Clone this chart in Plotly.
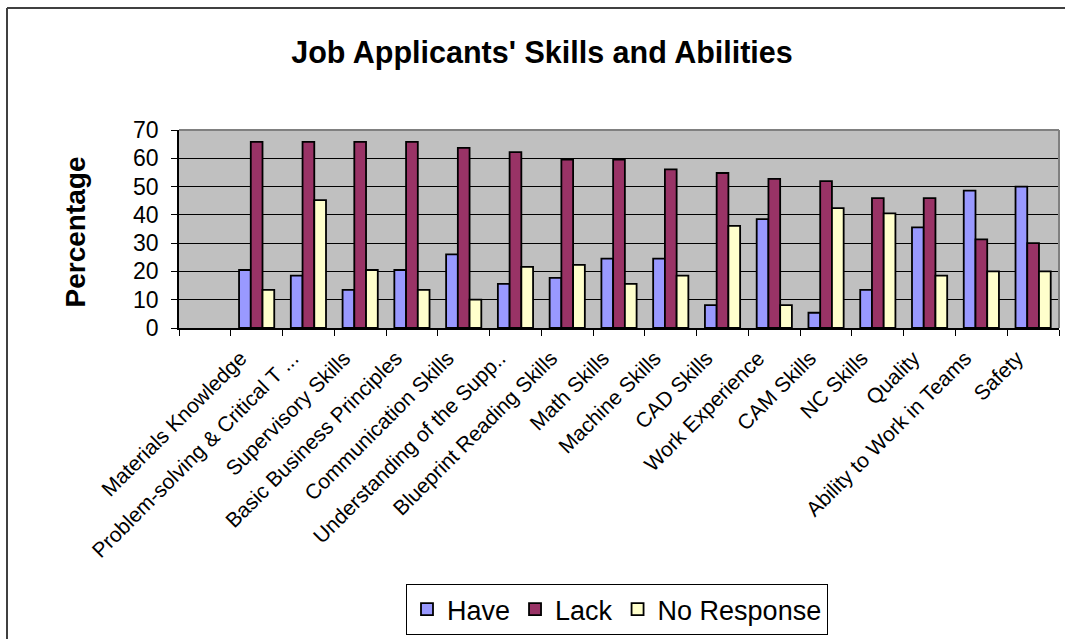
import plotly.graph_objects as go

# Survey results: share of job applicants who have / lack each skill.
# The chart starts with an unlabeled, empty slot before the first skill.
skills = [
    " ",
    "Materials Knowledge",
    "Problem-solving & Critical T ...",
    "Supervisory Skills",
    "Basic Business Principles",
    "Communication Skills",
    "Understanding of the Supp..",
    "Blueprint Reading Skills",
    "Math Skills",
    "Machine Skills",
    "CAD Skills",
    "Work Experience",
    "CAM Skills",
    "NC Skills",
    "Quality",
    "Ability to Work in Teams",
    "Safety",
]
have = [None, 20.5, 18.5, 13.5, 20.5, 26.0, 15.6, 17.7, 24.5, 24.5, 8.1, 38.5, 5.4, 13.5, 35.6, 48.6, 50.0]
lack = [None, 65.8, 65.8, 65.8, 65.8, 63.7, 62.2, 59.5, 59.5, 56.1, 54.8, 52.7, 51.9, 45.9, 45.9, 31.3, 30.0]
no_response = [None, 13.5, 45.2, 20.5, 13.5, 10.0, 21.6, 22.3, 15.6, 18.5, 36.1, 8.1, 42.4, 40.5, 18.5, 20.0, 20.0]

FONT = "Arial, Liberation Sans, sans-serif"

# plot-area geometry in pixels (used to convert decorations to paper coords)
L, R, T, B = 179, 1059, 130, 328
W, H = R - L, B - T


def px(x):
    return (x - L) / W


def py(y):
    return (B - y) / H


fig = go.Figure()
series = [
    ("Have", have, "#9999FF"),
    ("Lack", lack, "#993366"),
    ("No Response", no_response, "#FFFFCC"),
]
for name, vals, color in series:
    fig.add_trace(go.Bar(
        name=name,
        x=skills,
        y=vals,
        marker=dict(color=color, line=dict(color="black", width=1.8)),
    ))

fig.update_layout(
    width=1065,
    height=639,
    margin=dict(l=L, r=1065 - R, t=T, b=639 - B, autoexpand=False),
    paper_bgcolor="white",
    plot_bgcolor="#C0C0C0",
    barmode="group",
    bargap=0.32,
    bargroupgap=0,
    font=dict(family=FONT, color="black"),
    title=dict(
        text="<b>Job Applicants' Skills and Abilities</b>",
        font=dict(family=FONT, size=30.5, color="black"),
        x=542 / 1065, xanchor="center",
        y=1 - 52 / 639, yanchor="middle",
        xref="container", yref="container",
    ),
    showlegend=True,
    legend=dict(
        orientation="h",
        x=px(617), xanchor="center",
        y=py(584), yanchor="top",
        font=dict(family=FONT, size=27, color="black"),
        bordercolor="black",
        borderwidth=1,
        bgcolor="white",
        traceorder="normal",
    ),
)

fig.update_xaxes(
    type="category",
    tickson="boundaries",
    ticks="outside",
    ticklen=6,
    tickcolor="black",
    tickangle=-45,
    tickfont=dict(family=FONT, size=21, color="black"),
    ticklabelstandoff=8,
    ticklabelshift=-16,
    showline=True,
    linecolor="black",
    linewidth=1.5,
    showgrid=False,
)
fig.update_yaxes(
    range=[0, 70],
    dtick=10,
    ticks="outside",
    ticklen=6,
    tickcolor="black",
    tickfont=dict(family=FONT, size=23, color="black"),
    ticklabelstandoff=8,
    showline=True,
    linecolor="black",
    linewidth=1.5,
    showgrid=True,
    gridcolor="black",
    gridwidth=1,
    zeroline=False,
)

# y-axis title
fig.add_annotation(
    text="<b>Percentage</b>",
    x=px(57), y=py(232), xref="paper", yref="paper",
    textangle=-90, showarrow=False,
    font=dict(family=FONT, size=28, color="black"),
)

# grey frame on the top and right of the plot area
fig.add_shape(type="line", xref="paper", yref="paper",
              x0=0, x1=1, y0=1, y1=1, line=dict(color="#808080", width=2))
fig.add_shape(type="line", xref="paper", yref="paper",
              x0=1, x1=1, y0=0, y1=1, line=dict(color="#808080", width=2))

# outer chart border (top and left edges visible)
fig.add_shape(type="line", xref="paper", yref="paper",
              x0=px(7), x1=px(1080), y0=py(8), y1=py(8),
              line=dict(color="#404040", width=2))
fig.add_shape(type="line", xref="paper", yref="paper",
              x0=px(7), x1=px(7), y0=py(8), y1=py(660),
              line=dict(color="#404040", width=2))

fig.write_html("out.html")
